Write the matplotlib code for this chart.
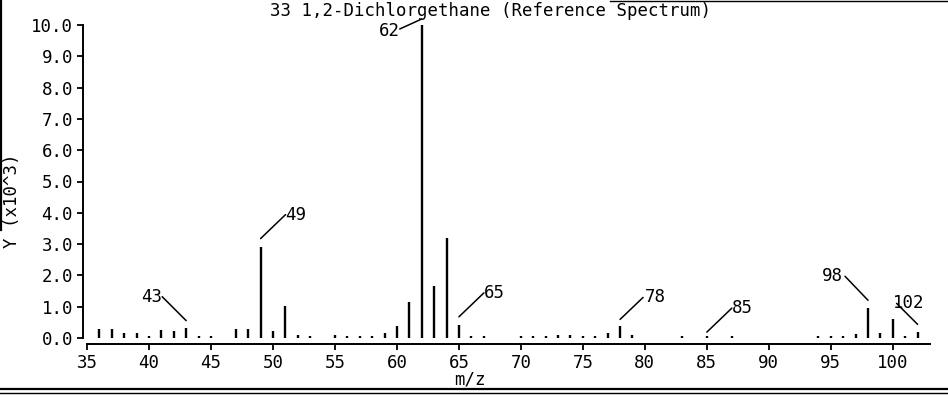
import numpy as np
import matplotlib
matplotlib.use("Agg")
import matplotlib.pyplot as plt
from matplotlib.transforms import ScaledTranslation
from matplotlib.lines import Line2D

# spectrum, intensity in units of 10^3
mz = [36, 37, 38, 39, 40, 41, 42, 43, 44, 45, 47, 48, 49, 50, 51, 52, 53,
      55, 56, 57, 58, 59, 60, 61, 62, 63, 64, 65, 66, 67, 70, 71, 72, 73,
      74, 75, 76, 77, 78, 79, 83, 85, 87, 94, 95, 96, 97, 98, 99, 100, 101, 102]
intensity = [0.28, 0.28, 0.15, 0.17, 0.07, 0.27, 0.22, 0.33, 0.07, 0.06, 0.30,
             0.30, 2.92, 0.22, 1.02, 0.10, 0.06, 0.10, 0.07, 0.06, 0.07, 0.17,
             0.38, 1.15, 10.0, 1.65, 3.20, 0.42, 0.06, 0.06, 0.07, 0.06, 0.07,
             0.10, 0.10, 0.06, 0.06, 0.15, 0.37, 0.08, 0.06, 0.06, 0.06, 0.06,
             0.06, 0.07, 0.12, 0.95, 0.15, 0.60, 0.07, 0.18]

labeled = [43, 49, 62, 65, 78, 85, 98, 102]
xticks = [35, 40, 45, 50, 55, 60, 65, 70, 75, 80, 85, 90, 95, 100]
yticks = [0, 1, 2, 3, 4, 5, 6, 7, 8, 9, 10]

title = "33 1,2-Dichlorgethane (Reference Spectrum)"

plt.rcParams['font.family'] = ['DejaVu Sans Mono']
fs = 12.5

fig = plt.figure(figsize=(9.48, 3.97), dpi=100)
W, H = 948.0, 397.0
ax = fig.add_axes([87 / W, 1 - 338 / H, (930 - 87) / W, (338 - 25) / H])

ax.vlines(mz, 0, intensity, color='black', lw=1.7)

ax.set_xlim(35, 103)
ax.set_ylim(0, 10)
ax.set_xticks(xticks)
ax.set_yticks(yticks)
ax.set_yticklabels(["%.1f" % t for t in yticks])
ax.tick_params(axis='both', direction='out', length=4, width=1.3,
               labelsize=fs, pad=3)
for s in ['top', 'right']:
    ax.spines[s].set_visible(False)
ax.spines['left'].set_position(('outward', 3))
ax.spines['bottom'].set_position(('outward', 4.5))
ax.spines['left'].set_linewidth(1.4)
ax.spines['bottom'].set_linewidth(1.4)

# leader lines: (start above peak px, line end dx, dy, text dx, dy, ha)
layout = {
    43: (7, -24, 24, -24, 24, 'right'),
    49: (8, 25, 24, 25, 24, 'left'),
    62: (6, -22, -10, -22, -12, 'right'),
    65: (8, 25, 24, 25, 24, 'left'),
    78: (7, 23, 22, 25, 22, 'left'),
    85: (4, 25, 24, 25, 24, 'left'),
    98: (8, -23, 24, -25, 24, 'right'),
    102: (8, -21, 21, -25, 21, 'left'),
}
for m in labeled:
    v = intensity[mz.index(m)]
    up, lx, ly, tx, ty, ha = layout[m]
    trans = ax.transData + ScaledTranslation(0, up / 100.0, fig.dpi_scale_trans)
    ax.annotate('', xy=(m, v), xycoords=trans, xytext=(lx, ly),
                textcoords='offset pixels', annotation_clip=False,
                arrowprops=dict(arrowstyle='-', color='black', lw=1.1,
                                shrinkA=0, shrinkB=0))
    ax.annotate(str(m), xy=(m, v), xycoords=trans, xytext=(tx, ty),
                textcoords='offset pixels', ha=ha, va='center', fontsize=fs,
                annotation_clip=False)

fig.text(490 / W, 1 - 11 / H, title, ha='center', va='center', fontsize=fs)
fig.text(470 / W, 1 - 380 / H, "m/z", ha='center', va='center', fontsize=fs)
fig.text(12 / W, 1 - 201 / H, "Y (x10^3)", ha='center', va='center',
         rotation=90, fontsize=fs)

# frame lines from the scanned page
fig.add_artist(Line2D([0, 1], [1 - 388.5 / H] * 2, color='black', lw=1.6))
fig.add_artist(Line2D([0, 1], [1 - 392.5 / H] * 2, color='black', lw=1.0))
fig.add_artist(Line2D([1 / W] * 2, [1, 1 - 230 / H], color='black', lw=1.6))
fig.add_artist(Line2D([610 / W, 1], [1 - 0.5 / H] * 2, color='black', lw=1.0))

fig.savefig("out.png", dpi=100)
